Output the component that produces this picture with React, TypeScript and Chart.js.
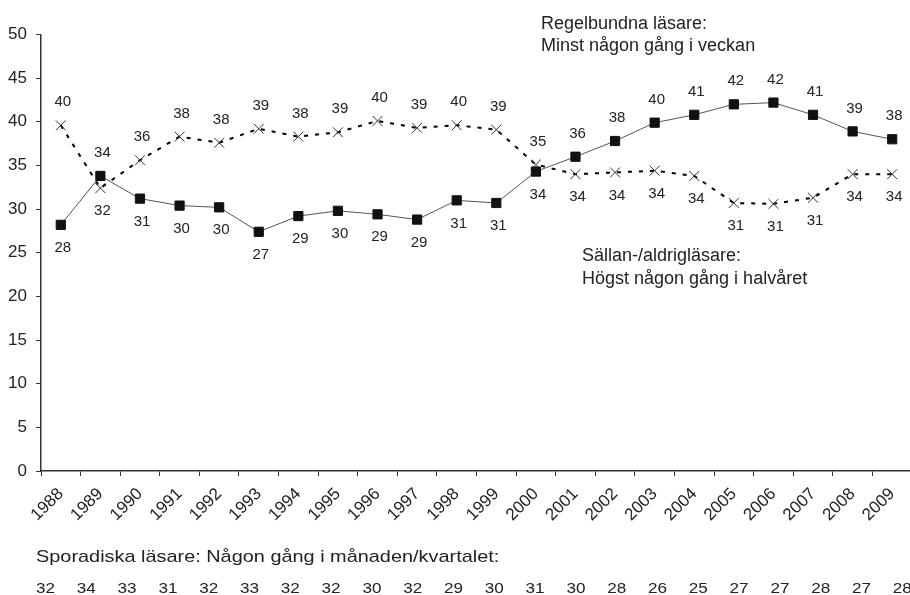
import React, { useEffect, useRef } from "react";
import { Chart, registerables } from "chart.js";

Chart.register(...registerables);

const years = ["1988", "1989", "1990", "1991", "1992", "1993", "1994", "1995", "1996", "1997", "1998", "1999", "2000", "2001", "2002", "2003", "2004", "2005", "2006", "2007", "2008", "2009"];
const regularReaders = [28.2, 33.8, 31.2, 30.4, 30.2, 27.4, 29.2, 29.8, 29.4, 28.8, 31.0, 30.7, 34.3, 36.0, 37.8, 39.9, 40.8, 42.0, 42.2, 40.8, 38.9, 38.0];
const rareReaders = [39.6, 32.4, 35.6, 38.3, 37.6, 39.2, 38.3, 38.8, 40.1, 39.3, 39.6, 39.1, 35.1, 34.0, 34.2, 34.4, 33.8, 30.7, 30.6, 31.3, 34.0, 34.0];
const sporadicReaders = [32, 34, 33, 31, 32, 33, 32, 32, 30, 32, 29, 30, 31, 30, 28, 26, 25, 27, 27, 28, 27, 28];
const regularNote = ["Regelbundna läsare:", "Minst någon gång i veckan"];
const rareNote = ["Sällan-/aldrigläsare:", "Högst någon gång i halvåret"];
const sporadicTitle = "Sporadiska läsare: Någon gång i månaden/kvartalet:";
const yMin = 0;
const yMax = 50;
const yStep = 5;

const FONT = "'Liberation Sans', Arial, Helvetica, sans-serif";
const TEXT = "#222";

const labelPlugin = {
  id: "pointLabels",
  afterDatasetsDraw(chart: any) {
    const ctx = chart.ctx;
    const series = [regularReaders, rareReaders];
    ctx.save();
    ctx.font = `15px ${FONT}`;
    ctx.fillStyle = TEXT;
    ctx.textAlign = "center";
    ctx.textBaseline = "middle";
    series.forEach((vals, d) => {
      const other = series[1 - d];
      const meta = chart.getDatasetMeta(d);
      meta.data.forEach((el: any, i: number) => {
        const above = vals[i] >= other[i];
        ctx.fillText(String(Math.round(vals[i])), el.x + 2, el.y + (above ? -23 : 23));
      });
    });
    ctx.restore();
  },
};

const notesPlugin = {
  id: "notes",
  afterDraw(chart: any) {
    const ctx = chart.ctx;
    ctx.save();
    ctx.fillStyle = TEXT;
    ctx.textBaseline = "alphabetic";
    ctx.textAlign = "left";
    ctx.font = `18px ${FONT}`;
    ctx.fillText(regularNote[0], 541, 28.5);
    ctx.fillText(regularNote[1], 541, 51);
    ctx.fillText(rareNote[0], 582, 261);
    ctx.fillText(rareNote[1], 582, 283.5);
    // bottom block (horizontally stretched as in the original)
    ctx.save();
    ctx.translate(36, 561.5);
    ctx.scale(1.17, 1);
    ctx.font = `17px ${FONT}`;
    ctx.fillText(sporadicTitle, 0, 0);
    ctx.restore();
    ctx.font = `15px ${FONT}`;
    sporadicReaders.forEach((v, i) => {
      ctx.save();
      ctx.translate(36 + i * 40.8, 593);
      ctx.scale(1.14, 1);
      ctx.fillText(String(v), 0, 0);
      ctx.restore();
    });
    ctx.restore();
  },
};

export default function App() {
  const ref = useRef<HTMLCanvasElement | null>(null);
  useEffect(() => {
    if (!ref.current) return;
    const chart = new Chart(ref.current, {
      type: "line",
      data: {
        labels: years,
        datasets: [
          {
            label: "Regelbundna läsare",
            data: regularReaders,
            borderColor: "#555",
            borderWidth: 1,
            tension: 0,
            pointStyle: "rect",
            pointRadius: 6.5,
            pointBorderWidth: 1,
            pointBackgroundColor: "#111",
            pointBorderColor: "#111",
            fill: false,
          },
          {
            label: "Sällan-/aldrigläsare",
            data: rareReaders,
            borderColor: "#000",
            borderWidth: 2,
            borderDash: [4, 7],
            tension: 0,
            pointStyle: "crossRot",
            pointRadius: 7,
            pointBorderWidth: 1,
            pointBackgroundColor: "#333",
            pointBorderColor: "#333",
            fill: false,
          },
        ],
      },
      options: {
        responsive: false,
        animation: false,
        devicePixelRatio: 1,
        layout: { padding: { top: 34.5, right: 5.6, bottom: 0, left: 0 } },
        plugins: {
          legend: { display: false },
          tooltip: { enabled: false },
        },
        scales: {
          x: {
            type: "category",
            offset: true,
            grid: { display: true, drawOnChartArea: false, drawTicks: true, tickLength: 5, color: "#333", offset: true },
            border: { display: true, color: "#333", width: 1.5 },
            ticks: {
              autoSkip: false,
              minRotation: 45,
              maxRotation: 45,
              padding: 8,
              color: TEXT,
              font: { family: FONT, size: 17 },
            },
            afterFit: (s: any) => {
              s.height = 124;
            },
          },
          y: {
            min: yMin,
            max: yMax,
            grid: { display: true, drawOnChartArea: false, drawTicks: true, tickLength: 5, color: "#333" },
            border: { display: true, color: "#333", width: 1.5 },
            ticks: {
              stepSize: yStep,
              padding: 9,
              color: TEXT,
              font: { family: FONT, size: 17 },
            },
            afterFit: (s: any) => {
              s.width = 41;
            },
          },
        },
      },
      plugins: [labelPlugin, notesPlugin],
    } as any);
    return () => chart.destroy();
  }, []);
  return (
    <div style={{ position: "fixed", left: 0, top: 0, width: 910, height: 595, overflow: "hidden", background: "#fff" }}>
      <canvas ref={ref} width={920} height={595} style={{ display: "block", width: 920, height: 595 }} />
    </div>
  );
}
